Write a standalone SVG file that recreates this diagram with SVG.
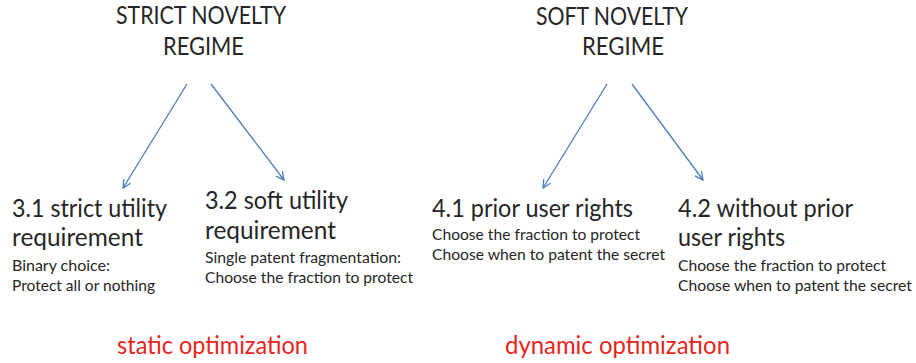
<svg xmlns="http://www.w3.org/2000/svg" width="916" height="363" viewBox="0 0 916 363">
<style>
text{font-family:Lato,"Open Sans","Liberation Sans",sans-serif;fill:#262626}
.t{font-size:25px}
.h{font-size:24.5px}
.s{font-size:15px}
.r{font-size:24.5px;fill:#e8241c}
.c{stroke:#4a7ebb;stroke-width:1.3;fill:none}
</style>
<defs>
<marker id="a" viewBox="0 0 10 10" refX="9" refY="5" markerWidth="10" markerHeight="10" markerUnits="userSpaceOnUse" orient="auto">
<path d="M1,1 L9,5 L1,9" fill="none" stroke="#4a7ebb" stroke-width="1.3"/>
</marker>
</defs>
<rect width="916" height="363" fill="#fff"/>
<g id="strict">
<text class="t" x="116" y="24" textLength="170" lengthAdjust="spacingAndGlyphs">STRICT NOVELTY</text>
<text class="t" x="163" y="55" textLength="81" lengthAdjust="spacingAndGlyphs">REGIME</text>
</g>
<g id="soft">
<text class="t" x="536" y="25" textLength="152" lengthAdjust="spacingAndGlyphs">SOFT NOVELTY</text>
<text class="t" x="582" y="55" textLength="82" lengthAdjust="spacingAndGlyphs">REGIME</text>
</g>
<g id="connectors">
<line class="c" x1="187" y1="84" x2="123" y2="188" marker-end="url(#a)"/>
<line class="c" x1="211" y1="84" x2="284" y2="180" marker-end="url(#a)"/>
<line class="c" x1="607" y1="84" x2="543" y2="188" marker-end="url(#a)"/>
<line class="c" x1="632" y1="84" x2="703" y2="180" marker-end="url(#a)"/>
</g>
<g id="n31">
<text class="h" x="12" y="217" textLength="155" lengthAdjust="spacingAndGlyphs">3.1 strict utility</text>
<text class="h" x="12" y="246" textLength="131" lengthAdjust="spacingAndGlyphs">requirement</text>
<text class="s" x="12" y="271" textLength="98" lengthAdjust="spacingAndGlyphs">Binary choice:</text>
<text class="s" x="12" y="291" textLength="143" lengthAdjust="spacingAndGlyphs">Protect all or nothing</text>
</g>
<g id="n32">
<text class="h" x="205" y="209" textLength="143" lengthAdjust="spacingAndGlyphs">3.2 soft utility</text>
<text class="h" x="205" y="239" textLength="131" lengthAdjust="spacingAndGlyphs">requirement</text>
<text class="s" x="205" y="263" textLength="196" lengthAdjust="spacingAndGlyphs">Single patent fragmentation:</text>
<text class="s" x="205" y="283" textLength="208" lengthAdjust="spacingAndGlyphs">Choose the fraction to protect</text>
</g>
<g id="n41">
<text class="h" x="432" y="217" textLength="201" lengthAdjust="spacingAndGlyphs">4.1 prior user rights</text>
<text class="s" x="432" y="240" textLength="208" lengthAdjust="spacingAndGlyphs">Choose the fraction to protect</text>
<text class="s" x="432" y="260" textLength="233" lengthAdjust="spacingAndGlyphs">Choose when to patent the secret</text>
</g>
<g id="n42">
<text class="h" x="678" y="217" textLength="175" lengthAdjust="spacingAndGlyphs">4.2 without prior</text>
<text class="h" x="678" y="246" textLength="107" lengthAdjust="spacingAndGlyphs">user rights</text>
<text class="s" x="678" y="271" textLength="208" lengthAdjust="spacingAndGlyphs">Choose the fraction to protect</text>
<text class="s" x="678" y="291" textLength="234" lengthAdjust="spacingAndGlyphs">Choose when to patent the secret</text>
</g>
<g id="labels">
<text class="r" x="117" y="354" textLength="191" lengthAdjust="spacingAndGlyphs">static optimization</text>
<text class="r" x="505" y="354" textLength="225" lengthAdjust="spacingAndGlyphs">dynamic optimization</text>
</g>
</svg>
